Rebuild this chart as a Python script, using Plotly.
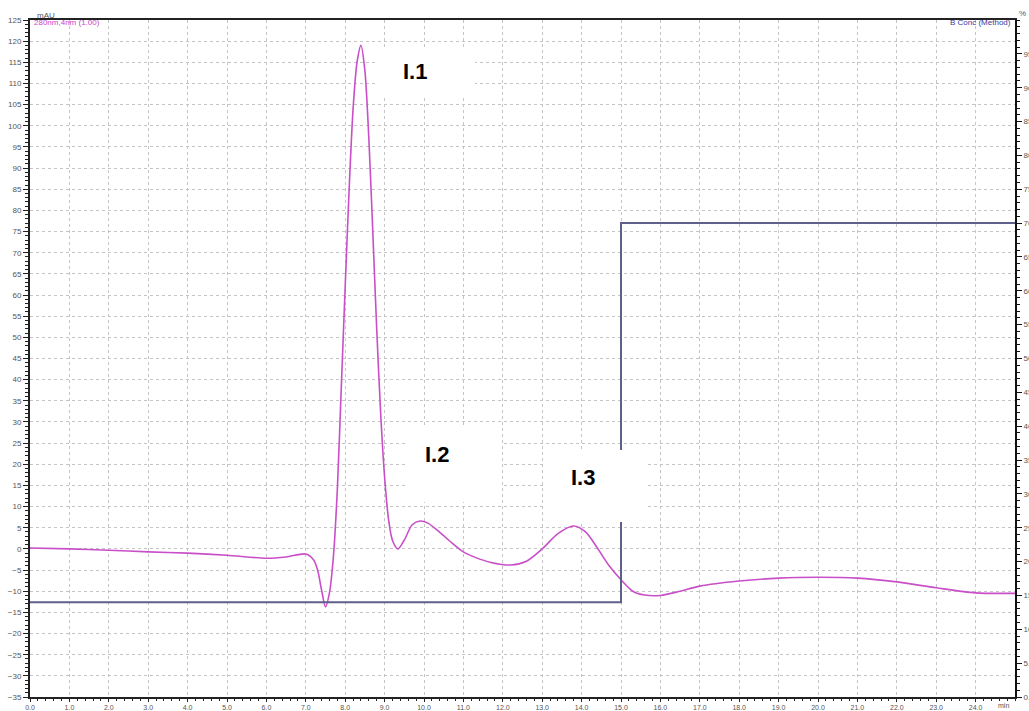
import plotly.graph_objects as go

# Chromatogram (UV, mAU)
time_min = [0.0, 1.0, 2.0, 3.0, 4.0, 5.0, 6.0, 6.5, 7.0, 7.2, 7.3, 7.4, 7.5, 7.6, 7.7,
            7.8, 7.9, 8.0, 8.1, 8.2, 8.3, 8.4, 8.5, 8.6, 8.7, 8.8, 8.9, 9.0, 9.1, 9.2,
            9.34, 9.5, 9.7, 9.9, 10.1, 10.4, 10.7, 11.0, 11.3, 11.7, 12.2, 12.6, 13.0,
            13.4, 13.8, 14.1, 14.4, 14.7, 15.0, 15.3, 15.6, 16.0, 16.5, 17.0, 18.0,
            19.0, 20.0, 21.0, 22.0, 23.0, 24.0, 25.0]
mau = [0.2, 0.0, -0.3, -0.7, -1.0, -1.5, -2.2, -1.9, -1.2, -2.6, -5.0, -9.7, -13.7, -10.4, -1.9,
       14.0, 38.0, 62.0, 85.0, 104.0, 115.0, 119.0, 113.0, 97.0, 75.0, 52.0, 32.0, 17.0, 7.0, 2.0,
       0.0, 2.1, 5.7, 6.6, 6.1, 3.9, 1.5, -0.7, -2.0, -3.2, -3.8, -2.9, 0.0,
       3.6, 5.4, 4.0, 0.2, -4.0, -7.3, -10.0, -10.9, -11.0, -10.0, -8.8, -7.6,
       -6.9, -6.7, -6.9, -7.8, -9.2, -10.4, -10.5]

# Gradient (B Conc, %)
grad_time = [0.0, 15.0, 15.0, 25.0]
grad_b = [14, 14, 70, 70]

# Axis ticks
x_ticks = [float(i) for i in range(0, 25)]
x_ticklabels = [f"{v:.1f}" for v in x_ticks]
y_ticks = list(range(-35, 130, 5))
y2_ticks = list(range(0, 100, 5))

# Peak labels: (text, text_x, text_y, box_x, box_y, box_w, box_h)
peak_labels = [
    ("I.1", 9.77, 112.8, 10.06, 112.4, 97, 47),
    ("I.2", 10.33, 22.2, 10.75, 20.0, 97, 75),
    ("I.3", 14.04, 16.8, 14.34, 14.9, 100, 72),
]

font_family = "Liberation Sans, Arial, sans-serif"
tick_font = dict(family=font_family, size=8, color="#555555")
x_tick_font = dict(family=font_family, size=7, color="#555555")
grid_color = "#c4c4c4"

fig = go.Figure()
fig.add_trace(go.Scatter(x=time_min, y=mau, mode="lines",
                         line=dict(color="#c84fc8", width=1.6, shape="spline", smoothing=0.8),
                         name="UV", yaxis="y", showlegend=False))
fig.add_trace(go.Scatter(x=grad_time, y=grad_b, mode="lines", line=dict(color="#5f5f8c", width=2),
                         name="B Conc", yaxis="y2", showlegend=False))

annotations = []
for text, tx, ty, bx, by, bw, bh in peak_labels:
    annotations.append(dict(x=bx, y=by, xref="x", yref="y", text=" ", showarrow=False,
                            width=bw, height=bh, bgcolor="white", borderpad=0, borderwidth=0))
for text, tx, ty, bx, by, bw, bh in peak_labels:
    annotations.append(dict(x=tx, y=ty, xref="x", yref="y", text=f"<b>{text}</b>", showarrow=False,
                            font=dict(family=font_family, size=22, color="black")))

annotations += [
    dict(x=0.005, y=1.0, xref="paper", yref="paper", xanchor="left", yanchor="bottom", yshift=-2,
         text="mAU", showarrow=False, font=dict(family=font_family, size=8, color="#555555")),
    dict(x=0.002, y=1.0, xref="paper", yref="paper", xanchor="left", yanchor="top", yshift=4,
         text="280nm,4nm (1.00)", showarrow=False, font=dict(family=font_family, size=8, color="#cc44cc")),
    dict(x=0.998, y=1.0, xref="paper", yref="paper", xanchor="right", yanchor="top", yshift=4,
         text="B Conc (Method)", showarrow=False, font=dict(family=font_family, size=8, color="#3a3aa0")),
    dict(x=1.0, y=1.0, xref="paper", yref="paper", xanchor="left", yanchor="bottom", xshift=2, yshift=0,
         text="%", showarrow=False, font=dict(family=font_family, size=8, color="#555555")),
    dict(x=0.988, y=0.0, xref="paper", yref="paper", xanchor="center", yanchor="top", yshift=-3,
         text="min", showarrow=False, font=dict(family=font_family, size=7, color="#555555")),
]

fig.update_layout(
    width=1029, height=711,
    margin=dict(l=30, r=14, t=20, b=14, autoexpand=False),
    paper_bgcolor="white", plot_bgcolor="white",
    showlegend=False,
    xaxis=dict(range=[0, 25], tickvals=x_ticks, ticktext=x_ticklabels, tickfont=x_tick_font,
               showgrid=True, gridcolor=grid_color, griddash="3px,3px", gridwidth=1,
               showline=True, linecolor="#222222", linewidth=2, mirror=True, automargin=False,
               ticks="outside", ticklen=3, tickcolor="#222222", zeroline=False,
               minor=dict(dtick=0.2, ticks="outside", ticklen=2, tickcolor="#222222", showgrid=False)),
    yaxis=dict(range=[-35, 125], tickvals=y_ticks, tickfont=tick_font,
               showgrid=True, gridcolor=grid_color, griddash="3px,3px", gridwidth=1,
               showline=True, linecolor="#222222", linewidth=2, mirror=True, automargin=False,
               ticks="outside", ticklen=5, tickcolor="#222222", zeroline=False,
               minor=dict(dtick=1, ticks="outside", ticklen=3, tickcolor="#222222", showgrid=False)),
    yaxis2=dict(range=[0, 100], overlaying="y", side="right", tickvals=y2_ticks, tickformat=".1f",
                tickfont=tick_font, showgrid=False, zeroline=False, automargin=False,
                showline=True, linecolor="#111111", linewidth=2,
                ticks="outside", ticklen=5, tickcolor="#111111",
                minor=dict(dtick=1, ticks="outside", ticklen=3, tickcolor="#111111", showgrid=False)),
    annotations=annotations,
)

fig.write_html("out.html")
